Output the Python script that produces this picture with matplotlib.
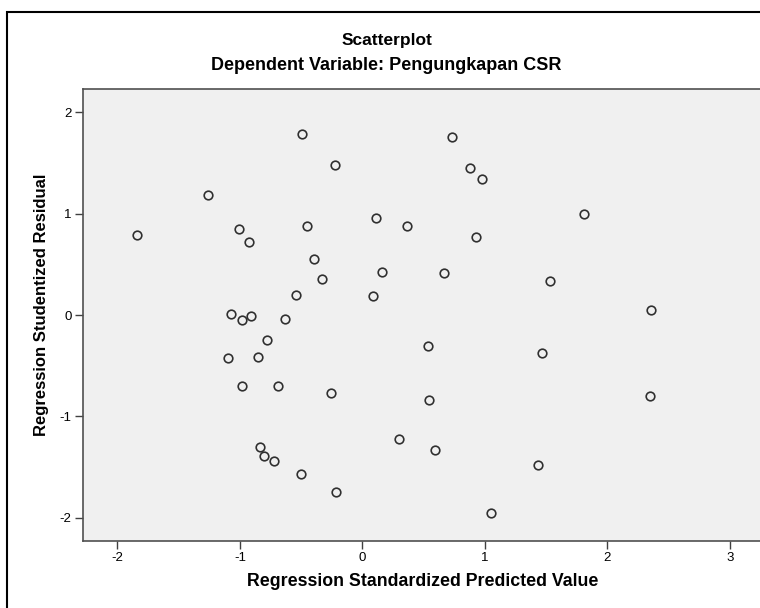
import matplotlib
matplotlib.use("Agg")
import matplotlib.pyplot as plt
from matplotlib.patches import Rectangle

# Regression standardized predicted value (x) vs studentized residual (y)
pred = [-1.837, -1.261, -1.007, -0.930, -0.494, -0.226, -0.453, -0.398, -0.330,
        -0.545, 0.112, 0.364, 0.161, 0.085,
        -1.070, -0.982, -0.911, -0.633, -0.777, -1.100, -0.849, -0.985, -0.688,
        -0.259, 0.296, -0.840, -0.802, -0.720, -0.502, -0.212,
        0.730, 0.882, 0.978, 1.811, 0.926, 0.664, 1.527, 2.357,
        0.538, 1.469, 0.541, 2.351, 0.596, 1.434, 1.052]
resid = [0.790, 1.184, 0.846, 0.724, 1.787, 1.478, 0.875, 0.553, 0.359,
         0.197, 0.961, 0.879, 0.424, 0.188,
         0.007, -0.049, -0.013, -0.040, -0.250, -0.424, -0.418, -0.704, -0.704,
         -0.766, -1.220, -1.303, -1.395, -1.438, -1.566, -1.747,
         1.757, 1.448, 1.346, 0.994, 0.770, 0.415, 0.336, 0.049,
         -0.309, -0.375, -0.842, -0.796, -1.332, -1.477, -1.951]

xticks = [-2, -1, 0, 1, 2, 3]
yticks = [-2, -1, 0, 1, 2]

plt.rcParams['font.family'] = ['Liberation Sans', 'DejaVu Sans']
plt.rcParams['axes.unicode_minus'] = False

fig = plt.figure(figsize=(7.6, 6.08), dpi=100)

# outer chart frame
fig.patches.append(Rectangle((7 / 760, -0.1), 1.2, 1 - 12 / 608 + 0.1,
                             transform=fig.transFigure, fill=False,
                             edgecolor="black", linewidth=1.5))

ax = fig.add_axes([82.7 / 760, 1 - 540.7 / 608, (763 - 82.7) / 760, (540.7 - 89.3) / 608])
ax.set_facecolor("#f0f0f0")
ax.plot(pred, resid, "o", markersize=6.2, markerfacecolor="none",
        markeredgecolor="#303030", markeredgewidth=1.2, clip_on=False)

ax.set_xlim(-2.284, 3.27)
ax.set_ylim(-2.226, 2.226)
ax.set_xticks(xticks)
ax.set_yticks(yticks)
ax.tick_params(direction="out", length=6, width=1, color="#404040",
               labelsize=9.5, pad=2)
for s in ["left", "bottom", "top"]:
    ax.spines[s].set_color("#505050")
    ax.spines[s].set_linewidth(1.2)
ax.spines["right"].set_visible(False)

fig.text(387 / 760, 1 - 40 / 608, "Scatterplot", ha="center", va="center",
         fontsize=12.5, fontweight="bold")
fig.text(386 / 760, 1 - 66 / 608, "Dependent Variable: Pengungkapan CSR",
         ha="center", va="center", fontsize=13, fontweight="bold")
fig.text(423 / 760, 1 - 581 / 608, "Regression Standardized Predicted Value",
         ha="center", va="center", fontsize=12.8, fontweight="bold")
fig.text(42 / 760, 1 - 305 / 608, "Regression Studentized Residual",
         ha="center", va="center", rotation=90, fontsize=12, fontweight="bold")

fig.savefig("out.png", dpi=100)
